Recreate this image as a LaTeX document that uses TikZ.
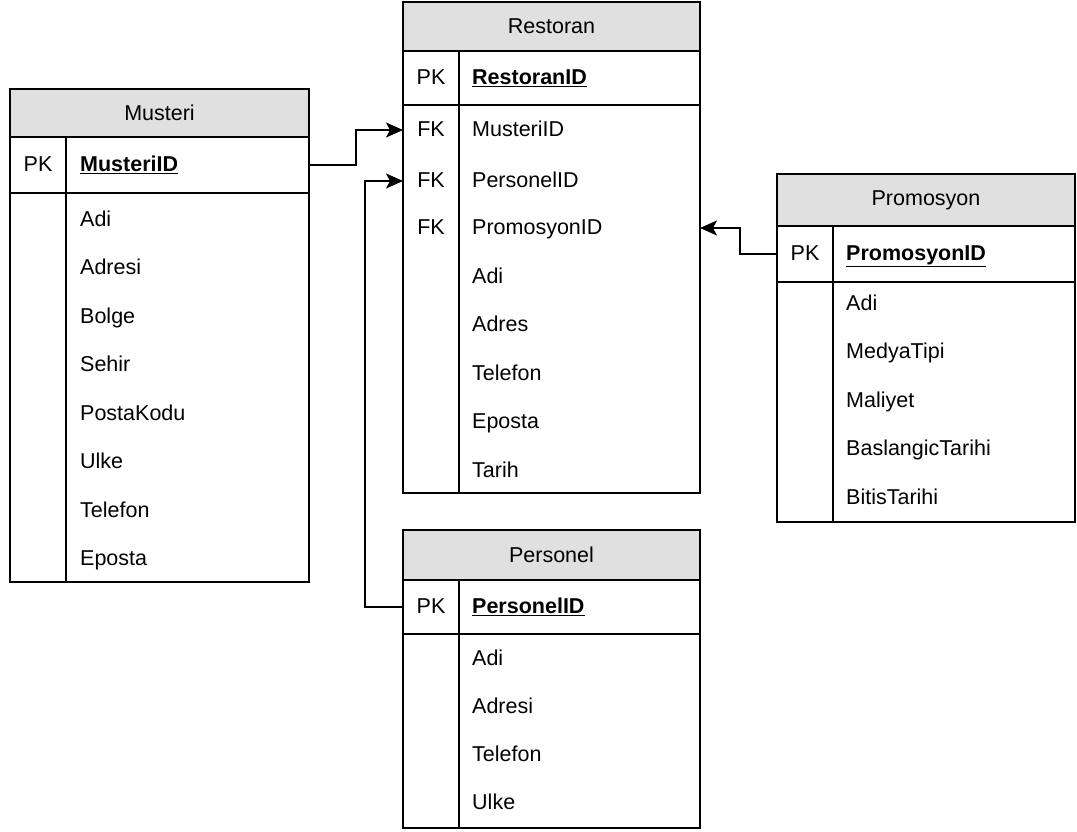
\documentclass[tikz,border=0pt]{standalone}
\usepackage{fontspec}
\setmainfont{Liberation Sans}
\usetikzlibrary{arrows.meta}
\definecolor{headgray}{RGB}{224,224,224}
\tikzset{
  tbl/.style={draw, line width=1.4pt, anchor=north west, inner sep=0pt, outer sep=0pt},
  hdr/.style={tbl, fill=headgray},
  keytxt/.style={inner sep=0pt, text height=1.22em, text depth=0pt},
  fldtxt/.style={keytxt, anchor=west},
  conn/.style={line width=1.4pt, -{Stealth[length=17pt,width=15pt,inset=4pt]}},
}

\begin{document}
\begin{tikzpicture}[x=1pt, y=-1pt, font=\fontsize{21.5}{26}\selectfont]
    \useasboundingbox (0,0) rectangle (1077,832);

    % Musteri
    \node[hdr, minimum width=299pt, minimum height=48pt] (mushead) at (10,89) {Musteri};
    \node[tbl, minimum width=299pt, minimum height=56pt] (muspk) at (10,137) {};
    \node[tbl, minimum width=299pt, minimum height=389pt] (musbody) at (10,193) {};
    \draw[line width=1.4pt] (66,137) -- (66,582);
    \node[keytxt] (muskey) at (38,165) {PK};
    \node[fldtxt] (musid) at (80,165) {\textbf{\underline{MusteriID}}};
    \foreach \f [count=\i from 0] in {Adi,Adresi,Bolge,Sehir,PostaKodu,Ulke,Telefon,Eposta}
      \node[fldtxt] (musf\i) at (80,{220+48.5*\i}) {\f};

    % Restoran
    \node[hdr, minimum width=297pt, minimum height=49pt] (resthead) at (403,2) {Restoran};
    \node[tbl, minimum width=297pt, minimum height=54pt] (restpk) at (403,51) {};
    \node[tbl, minimum width=297pt, minimum height=388pt] (restbody) at (403,105) {};
    \draw[line width=1.4pt] (459,51) -- (459,493);
    \node[keytxt] (restkey) at (431,78) {PK};
    \node[fldtxt] (restid) at (472,78) {\textbf{\underline{RestoranID}}};
    \node[keytxt] (restfk1) at (431,130) {FK};
    \node[keytxt] (restfk2) at (431,181) {FK};
    \node[keytxt] (restfk3) at (431,228) {FK};
    \node[fldtxt] (restf1) at (472,130) {MusteriID};
    \node[fldtxt] (restf2) at (472,181) {PersonelID};
    \node[fldtxt] (restf3) at (472,228) {PromosyonID};
    \foreach \f [count=\i from 0] in {Adi,Adres,Telefon,Eposta,Tarih}
      \node[fldtxt] (restg\i) at (472,{277+48.5*\i}) {\f};

    % Promosyon
    \node[hdr, minimum width=298pt, minimum height=52pt] (promhead) at (777,174) {Promosyon};
    \node[tbl, minimum width=298pt, minimum height=56pt] (prompk) at (777,226) {};
    \node[tbl, minimum width=298pt, minimum height=240pt] (prombody) at (777,282) {};
    \draw[line width=1.4pt] (833,226) -- (833,522);
    \node[keytxt] (promkey) at (805,254) {PK};
    \node[fldtxt] (promid) at (846,254) {\textbf{\underline{PromosyonID}}};
    \foreach \f [count=\i from 0] in {Adi,MedyaTipi,Maliyet,BaslangicTarihi,BitisTarihi}
      \node[fldtxt] (promf\i) at (846,{304+48.5*\i}) {\f};

    % Personel
    \node[hdr, minimum width=297pt, minimum height=50pt] (perhead) at (403,530) {Personel};
    \node[tbl, minimum width=297pt, minimum height=54pt] (perpk) at (403,580) {};
    \node[tbl, minimum width=297pt, minimum height=194pt] (perbody) at (403,634) {};
    \draw[line width=1.4pt] (459,580) -- (459,828);
    \node[keytxt] (perkey) at (431,607) {PK};
    \node[fldtxt] (perid) at (472,607) {\textbf{\underline{PersonelID}}};
    \foreach \f [count=\i from 0] in {Adi,Adresi,Telefon,Ulke}
      \node[fldtxt] (perf\i) at (472,{659+48*\i}) {\f};

    % relations
    \draw[conn] (muspk.east) -- ++(47,0) |- (restbody.west |- restf1);
    \draw[conn] (perpk.west) -- ++(-38,0) |- (restbody.west |- restf2);
    \draw[conn] (prompk.west) -- ++(-37,0) |- (restbody.east |- restf3);
\end{tikzpicture}
\end{document}
